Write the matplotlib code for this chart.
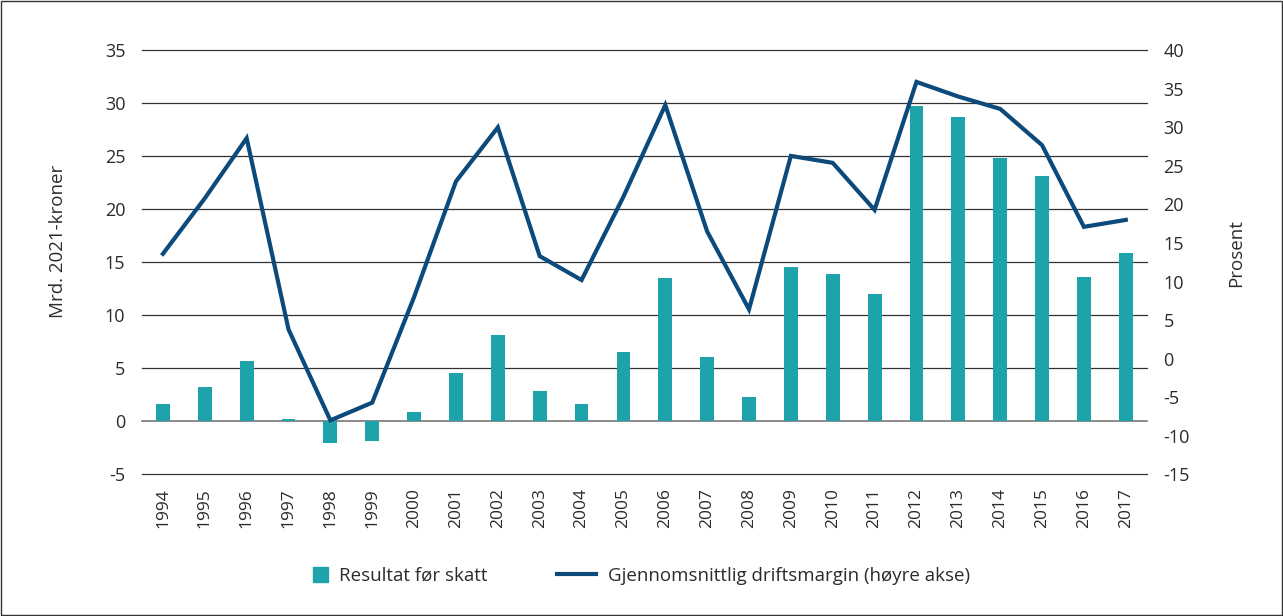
import matplotlib.pyplot as plt
import matplotlib.patches as mpatches
from matplotlib.lines import Line2D
import numpy as np

years = [str(y) for y in range(1994, 2018)]
resultat = [1.6, 3.2, 5.7, 0.2, -2.0, -1.9, 0.9, 4.6, 8.1, 2.9, 1.6, 6.5,
            13.5, 6.1, 2.3, 14.6, 13.9, 12.0, 29.7, 28.7, 24.8, 23.1, 13.6, 15.9]
driftsmargin = [13.6, 20.8, 28.6, 3.8, -8.0, -5.7, 8.0, 23.0, 30.0, 13.3, 10.2, 21.0,
                32.9, 16.5, 6.4, 26.3, 25.4, 19.3, 35.9, 34.0, 32.4, 27.7, 17.1, 18.0]

teal = '#1fa3aa'
navy = '#0b4a7b'
txt = '#2b2b2b'

plt.rcParams['font.family'] = ['Open Sans', 'DejaVu Sans']
plt.rcParams['axes.unicode_minus'] = False

fig = plt.figure(figsize=(12.83, 6.16), dpi=100)
ax = fig.add_axes([142 / 1283, 1 - 474.3 / 616, (1146.7 - 142) / 1283, 424 / 616])
ax2 = ax.twinx()

x = np.arange(len(years))
ax.bar(x, resultat, width=0.33, color=teal, zorder=3)
ax2.plot(x, driftsmargin, color=navy, lw=3, zorder=4, solid_joinstyle='miter')

ax.set_xlim(-0.5, len(years) - 0.5)
ax.set_ylim(-5, 35)
ax.set_yticks(range(-5, 36, 5))
ax2.set_ylim(-15, 40)
ax2.set_yticks(range(-15, 41, 5))
for v in range(-5, 36, 5):
    ax.axhline(v, color='#777777' if v == 0 else '#333333', lw=1.2 if v == 0 else 0.9,
               zorder=2 if v == 0 else 0, clip_on=False)

ax.set_xticks(x)
ax.set_xticklabels(years, rotation=90, fontsize=12.5, color=txt)
for a in (ax, ax2):
    for s in a.spines.values():
        s.set_visible(False)
    a.tick_params(length=0, colors=txt)
ax.tick_params(axis='y', labelsize=13, pad=12)
ax2.tick_params(axis='y', labelsize=13, pad=12)
ax.tick_params(axis='x', pad=10)
ax2.set_zorder(ax.get_zorder() + 1)
ax2.patch.set_visible(False)

ax.set_ylabel('Mrd. 2021-kroner', fontsize=13.5, color=txt)
ax.yaxis.set_label_coords(-0.075, 0.55)
ax2.set_ylabel('Prosent', fontsize=13.5, color=txt)
ax2.yaxis.set_label_coords(1.080, 0.522)

# two legends so the square and the line can have their own handle widths
leg_y = 1 - 576 / 616
leg1 = fig.legend([mpatches.Patch(color=teal)], ['Resultat før skatt'], loc='center left',
                  bbox_to_anchor=(313 / 1283, leg_y), frameon=False, fontsize=13.5,
                  handlelength=0.8, handleheight=0.8, handletextpad=0.6,
                  borderpad=0, borderaxespad=0)
leg2 = fig.legend([Line2D([], [], color=navy, lw=3)],
                  ['Gjennomsnittlig driftsmargin (høyre akse)'], loc='center left',
                  bbox_to_anchor=(557 / 1283, leg_y), frameon=False, fontsize=13.5,
                  handlelength=2.1, handletextpad=0.6, borderpad=0, borderaxespad=0)
for leg in (leg1, leg2):
    for t in leg.get_texts():
        t.set_color(txt)

fig.patches.append(mpatches.Rectangle((0.001, 0.002), 0.998, 0.996, transform=fig.transFigure,
                                      fill=False, edgecolor='#333333', lw=1))

fig.savefig('out.png', dpi=100)
